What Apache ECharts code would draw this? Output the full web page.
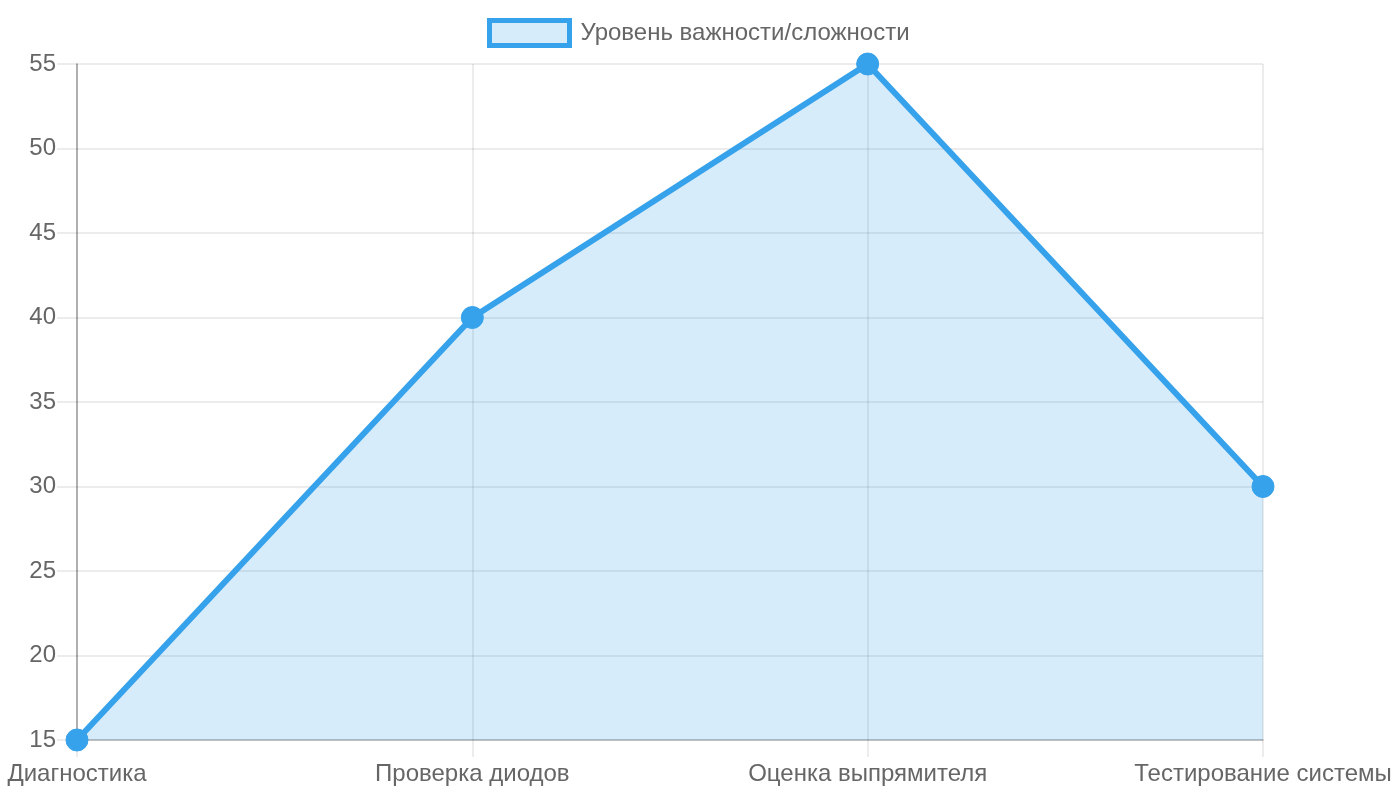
<!DOCTYPE html>
<html>
<head>
<meta charset="utf-8">
<script src="https://cdn.jsdelivr.net/npm/echarts@6/dist/echarts.min.js"></script>
<style>
  html, body { margin: 0; padding: 0; background: #fff; }
  #chart { width: 1400px; height: 800px; }
</style>
</head>
<body>
<div id="chart"></div>
<script>
// data
const categories = ['Диагностика', 'Проверка диодов', 'Оценка выпрямителя', 'Тестирование системы']
const seriesName = 'Уровень важности/сложности'
const values = [15, 40, 55, 30]

const chart = echarts.init(document.getElementById('chart'))
const font = 'Liberation Sans, Arial, sans-serif'
const gridColor = 'rgba(0,0,0,0.1)'

const option = {
  backgroundColor: '#fff',
  animation: false,
  legend: {
    top: 13,
    left: 482,
    icon: 'rect',
    itemWidth: 80,
    itemHeight: 25,
    textStyle: { color: '#666', fontSize: 24, fontFamily: font, padding: [0, 0, 0, 6] },
    itemStyle: { color: 'rgba(54,162,235,0.2)', borderColor: '#36A2EB', borderWidth: 5 },
    data: [seriesName]
  },
  grid: { left: 77, right: 137, top: 64, bottom: 60, containLabel: false },
  xAxis: {
    type: 'category',
    boundaryGap: false,
    data: categories,
    axisLine: { show: true, lineStyle: { color: 'rgba(0,0,0,0.25)', width: 1.5 } },
    axisTick: { show: true, length: 17, lineStyle: { color: gridColor, width: 1.5 } },
    splitLine: { show: true, lineStyle: { color: gridColor, width: 1.5 } },
    axisLabel: { color: '#666', fontSize: 24, fontFamily: font, margin: 22 }
  },
  yAxis: {
    type: 'value',
    min: 15,
    max: 55,
    interval: 5,
    axisLine: { show: true, lineStyle: { color: 'rgba(0,0,0,0.35)', width: 1.5 } },
    axisTick: { show: true, length: 20, lineStyle: { color: gridColor, width: 1.5 } },
    splitLine: { show: true, lineStyle: { color: gridColor, width: 1.5 } },
    axisLabel: { color: '#666', fontSize: 24, fontFamily: font, margin: 21, lineHeight: 28, padding: [4, 0, 0, 0] }
  },
  series: [{
    name: seriesName,
    type: 'line',
    data: values,
    symbol: 'circle',
    symbolSize: 22,
    lineStyle: { color: '#36A2EB', width: 6 },
    itemStyle: { color: '#36A2EB', borderColor: '#36A2EB' },
    areaStyle: { color: 'rgba(54,162,235,0.2)', opacity: 1, origin: 'start' }
  }]
}

chart.setOption(option)
</script>
</body>
</html>
